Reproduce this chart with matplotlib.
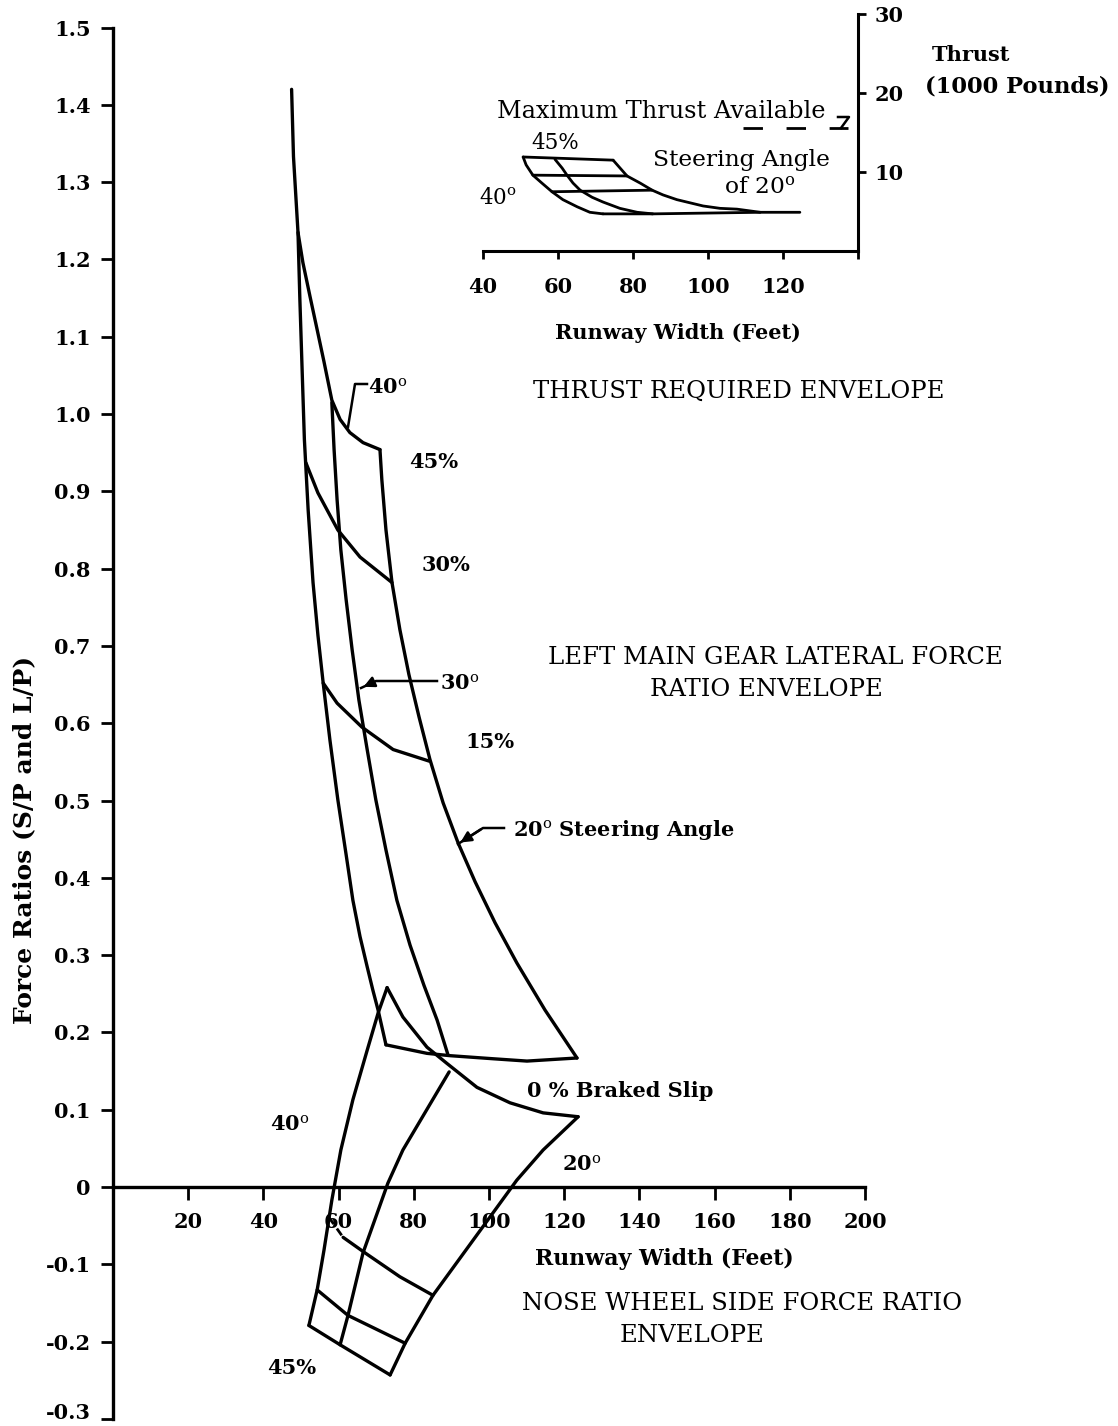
import matplotlib
matplotlib.use("Agg")
import matplotlib.pyplot as plt
from matplotlib.ticker import FixedLocator, FixedFormatter

# ---------------- data ----------------
x_ticks = [20, 40, 60, 80, 100, 120, 140, 160, 180, 200]
x_tick_labels = ["20", "40", "60", "80", "100", "120", "140", "160", "180", "200"]
y_ticks = [-0.3, -0.2, -0.1, 0.0, 0.1, 0.2, 0.3, 0.4, 0.5, 0.6, 0.7, 0.8, 0.9, 1.0, 1.1, 1.2, 1.3, 1.4, 1.5]
y_tick_labels = ["-0.3", "-0.2", "-0.1", "0", "0.1", "0.2", "0.3", "0.4", "0.5", "0.6",
                 "0.7", "0.8", "0.9", "1.0", "1.1", "1.2", "1.3", "1.4", "1.5"]

# Left main gear lateral force ratio envelope - steering angle curves
main_40deg_x = [47.5, 48.0, 49.2, 49.7, 50.3, 50.9, 51.9, 53.2, 54.5, 55.9, 57.7, 59.8, 62.0, 63.8, 65.7, 67.6, 69.1, 70.5, 72.6]
main_40deg_y = [1.420, 1.333, 1.235, 1.148, 1.057, 0.967, 0.876, 0.782, 0.714, 0.652, 0.578, 0.501, 0.430, 0.371, 0.324, 0.285, 0.255, 0.229, 0.184]
main_30deg_x = [58.2, 58.8, 59.6, 60.6, 62.0, 63.6, 65.4, 67.6, 69.9, 72.6, 75.5, 79.0, 82.7, 86.2, 89.1]
main_30deg_y = [1.015, 0.954, 0.889, 0.824, 0.760, 0.695, 0.630, 0.566, 0.501, 0.436, 0.371, 0.313, 0.261, 0.216, 0.171]
main_20deg_x = [71.0, 71.5, 72.6, 74.2, 76.3, 78.7, 81.4, 84.3, 87.8, 91.8, 96.3, 101.6, 107.4, 114.9, 123.4]
main_20deg_y = [0.954, 0.915, 0.850, 0.782, 0.721, 0.663, 0.608, 0.553, 0.497, 0.445, 0.395, 0.342, 0.290, 0.229, 0.167]
# braked slip curves
main_45pct_x = [49.2, 50.5, 52.4, 54.3, 56.1, 58.2, 60.4, 63.0, 66.5, 71.0]
main_45pct_y = [1.235, 1.196, 1.152, 1.109, 1.068, 1.018, 0.993, 0.976, 0.963, 0.954]
main_30pct_x = [51.3, 54.5, 59.8, 65.7, 74.2]
main_30pct_y = [0.937, 0.898, 0.850, 0.815, 0.782]
main_15pct_x = [55.9, 59.6, 66.2, 74.5, 84.1]
main_15pct_y = [0.652, 0.626, 0.595, 0.566, 0.551]
main_0pct_x = [72.6, 83.5, 89.6, 101.1, 110.1, 123.4]
main_0pct_y = [0.184, 0.173, 0.170, 0.166, 0.163, 0.167]

# Nose wheel side force ratio envelope
nose_40deg_x = [72.9, 70.5, 67.6, 63.8, 60.6, 58.2, 56.1, 54.3, 52.1]
nose_40deg_y = [0.258, 0.225, 0.177, 0.113, 0.048, -0.017, -0.082, -0.133, -0.179]
nose_30deg_x = [89.4, 77.1, 73.1, 66.5, 62.5, 60.4]
nose_30deg_y = [0.149, 0.048, 0.005, -0.085, -0.166, -0.204]
nose_20deg_x = [123.7, 114.4, 107.4, 85.1, 77.7, 73.7]
nose_20deg_y = [0.091, 0.048, 0.009, -0.140, -0.202, -0.243]
nose_0pct_x = [72.9, 77.1, 83.5, 88.8, 96.8, 105.6, 114.4, 123.7]
nose_0pct_y = [0.258, 0.220, 0.181, 0.160, 0.129, 0.109, 0.096, 0.091]
nose_15pct_x = [57.4, 61.2, 67.0, 76.3, 85.1]
nose_15pct_y = [-0.039, -0.065, -0.085, -0.116, -0.140]
nose_30pct_x = [54.3, 62.5, 77.7]
nose_30pct_y = [-0.133, -0.166, -0.202]
nose_45pct_x = [52.1, 60.4, 73.7]
nose_45pct_y = [-0.179, -0.204, -0.243]

# Inset: thrust required envelope (thrust in 1000 lb vs runway width in feet)
in_x_ticks = [40, 60, 80, 100, 120, 140]
in_x_tick_labels = ["40", "60", "80", "100", "120", ""]
in_y_ticks = [10, 20, 30]
in_y_tick_labels = ["10", "20", "30"]
thr_40deg_x = [50.7, 51.5, 53.3, 55.7, 58.4, 61.3, 65.1, 68.5, 72.0]
thr_40deg_y = [11.9, 10.9, 9.6, 8.6, 7.5, 6.5, 5.6, 4.9, 4.7]
thr_30deg_x = [59.2, 61.1, 62.4, 64.0, 65.9, 69.1, 72.0, 76.5, 81.1, 85.3]
thr_30deg_y = [11.6, 10.5, 9.6, 8.6, 7.7, 6.8, 6.2, 5.4, 4.9, 4.7]
thr_20deg_x = [74.7, 78.4, 81.9, 85.1, 88.0, 91.7, 95.2, 98.7, 103.2, 107.7, 113.9]
thr_20deg_y = [11.5, 9.5, 8.6, 7.7, 7.1, 6.5, 6.1, 5.7, 5.4, 5.3, 4.9]
thr_45pct_x = [50.7, 74.7]
thr_45pct_y = [11.9, 11.5]
thr_30pct_x = [53.3, 78.4]
thr_30pct_y = [9.6, 9.5]
thr_15pct_x = [58.4, 85.1]
thr_15pct_y = [7.5, 7.7]
thr_0pct_x = [72.0, 85.3, 113.9, 124.5]
thr_0pct_y = [4.7, 4.7, 4.9, 4.9]
max_thrust_x = [109.3, 137.3]
max_thrust_y = [15.6, 15.6]

# ---------------- figure ----------------
W, H = 1118, 1426
plt.rcParams["font.family"] = ["DejaVu Serif"]
plt.rcParams["mathtext.fontset"] = "dejavuserif"
plt.rcParams["lines.scale_dashes"] = False
fig = plt.figure(figsize=(W / 100, H / 100), dpi=100)


def fx(px):
    return px / W


def fy(py):
    return 1 - py / H


LW = 2.4
INK = "black"
DEG = r"$^{\mathrm{o}}$"
UP = 17.5  # size of the upper-case captions

# main axes: x 0..200 -> px 113..865 ; y -0.3..1.5 -> px 1419..27.5
AX_L, AX_R, AX_T, AX_B = 113, 865, 27.5, 1419
ax = fig.add_axes([fx(AX_L), fy(AX_B), (AX_R - AX_L) / W, (AX_B - AX_T) / H])
ax.set_xlim(0, 200)
ax.set_ylim(-0.3, 1.5)
ax.patch.set_alpha(0)
for s in ["top", "right"]:
    ax.spines[s].set_visible(False)
ax.spines["bottom"].set_position(("data", 0))
for s in ["bottom", "left"]:
    ax.spines[s].set_linewidth(2.4)
ax.xaxis.set_major_locator(FixedLocator(x_ticks))
ax.xaxis.set_major_formatter(FixedFormatter(x_tick_labels))
ax.yaxis.set_major_locator(FixedLocator(y_ticks))
ax.yaxis.set_major_formatter(FixedFormatter(y_tick_labels))
ax.tick_params(axis="both", direction="out", length=9, width=2, labelsize=15)
ax.tick_params(axis="y", pad=7)
ax.tick_params(axis="x", pad=9)
for lab in ax.get_xticklabels() + ax.get_yticklabels():
    lab.set_fontweight("bold")
ax.get_yticklabels()[0].set_verticalalignment("baseline")

# rotated y label, centred at about (24, 840) px
fig.text(fx(24), fy(840), "Force Ratios (S/P and L/P)", fontsize=18, fontweight="bold",
         rotation=90, ha="center", va="center")


def line(a, xs, ys, **kw):
    a.plot(xs, ys, color=INK, lw=kw.pop("lw", LW), solid_joinstyle="round",
           solid_capstyle="round", **kw)


for xs, ys in [(main_40deg_x, main_40deg_y), (main_30deg_x, main_30deg_y),
               (main_20deg_x, main_20deg_y), (main_45pct_x, main_45pct_y),
               (main_30pct_x, main_30pct_y), (main_15pct_x, main_15pct_y),
               (main_0pct_x, main_0pct_y),
               (nose_40deg_x, nose_40deg_y), (nose_30deg_x, nose_30deg_y),
               (nose_20deg_x, nose_20deg_y), (nose_0pct_x, nose_0pct_y),
               (nose_30pct_x, nose_30pct_y), (nose_45pct_x, nose_45pct_y)]:
    line(ax, xs, ys)
# 15 % nose curve: its first piece is broken (dashed) in the original
line(ax, nose_15pct_x[:2], nose_15pct_y[:2], dashes=(6, 4), lw=2.0)
line(ax, nose_15pct_x[1:], nose_15pct_y[1:])


def px_line(points, arrow=False):
    xs = [fx(p[0]) for p in points]
    ys = [fy(p[1]) for p in points]
    fig.add_artist(plt.Line2D(xs, ys, transform=fig.transFigure, color=INK, lw=1.8))
    if arrow:
        fig.add_artist(matplotlib.patches.FancyArrowPatch(
            (xs[-2], ys[-2]), (xs[-1], ys[-1]), transform=fig.transFigure,
            arrowstyle="-|>", mutation_scale=16, color=INK, lw=1.8))


# leaders
px_line([(367, 384), (355, 384), (348, 427)])
px_line([(437, 681), (376, 681), (361, 688)], arrow=True)
px_line([(504, 828), (483, 828), (458, 844)], arrow=True)


def txt(px, py, s, size=15, ha="left", weight="normal"):
    fig.text(fx(px), fy(py), s, fontsize=size, ha=ha, va="center", fontweight=weight)


# main chart labels
txt(533, 391, "THRUST REQUIRED ENVELOPE", size=UP)
txt(548, 658, "LEFT MAIN GEAR LATERAL FORCE", size=UP)
txt(650, 690, "RATIO ENVELOPE", size=UP)
txt(368, 388, "40" + DEG, weight="bold")
txt(434, 462, "45%", ha="center", weight="bold")
txt(446, 565, "30%", ha="center", weight="bold")
txt(440, 684, "30" + DEG, weight="bold")
txt(490, 742, "15%", ha="center", weight="bold")
txt(513, 830, "20" + DEG + " Steering Angle", weight="bold")
txt(527, 1091, "0 % Braked Slip", weight="bold")
txt(270, 1125, "40" + DEG, weight="bold")
txt(562, 1165, "20" + DEG, weight="bold")
txt(535, 1259, "Runway Width (Feet)", size=15.8, weight="bold")
txt(522, 1303, "NOSE WHEEL SIDE FORCE RATIO", size=UP)
txt(620, 1335, "ENVELOPE", size=UP)
txt(292, 1368, "45%", ha="center", weight="bold")

# ---------------- inset ----------------
ax2 = fig.add_axes([fx(483), fy(251), (858 - 483) / W, (251 - 14) / H])
ax2.set_xlim(40, 140)
ax2.set_ylim(0, 30)
ax2.patch.set_alpha(0)
for s in ["top", "left"]:
    ax2.spines[s].set_visible(False)
for s in ["bottom", "right"]:
    ax2.spines[s].set_linewidth(2.2)
ax2.yaxis.tick_right()
ax2.xaxis.set_major_locator(FixedLocator(in_x_ticks))
ax2.xaxis.set_major_formatter(FixedFormatter(in_x_tick_labels))
ax2.yaxis.set_major_locator(FixedLocator(in_y_ticks))
ax2.yaxis.set_major_formatter(FixedFormatter(in_y_tick_labels))
ax2.tick_params(axis="both", direction="out", length=6, width=2, labelsize=15, pad=6)
ax2.tick_params(axis="x", pad=13)
for lab in ax2.get_xticklabels() + ax2.get_yticklabels():
    lab.set_fontweight("bold")

ILW = 2.0
for xs, ys in [(thr_40deg_x, thr_40deg_y), (thr_30deg_x, thr_30deg_y),
               (thr_20deg_x, thr_20deg_y), (thr_45pct_x, thr_45pct_y),
               (thr_30pct_x, thr_30pct_y), (thr_15pct_x, thr_15pct_y),
               (thr_0pct_x, thr_0pct_y)]:
    line(ax2, xs, ys, lw=ILW)
ax2.plot(max_thrust_x, max_thrust_y, color=INK, lw=2.0, dashes=(14, 17))
px_line([(838, 117), (849, 117), (841, 128)])

txt(497, 112, "Maximum Thrust Available", size=17.3)
txt(555, 143, "45%", ha="center", size=15.5)
txt(741, 160, "Steering Angle", ha="center", size=16.8)
txt(760, 188, "of 20" + DEG, ha="center", size=16.8)
txt(498, 198, "40" + DEG, ha="center", size=15.5)
txt(678, 333, "Runway Width (Feet)", ha="center", weight="bold")
txt(932, 55, "Thrust", weight="bold")
txt(925, 86, "(1000 Pounds)", size=16.3, weight="bold")

fig.savefig("out.png", dpi=100)
